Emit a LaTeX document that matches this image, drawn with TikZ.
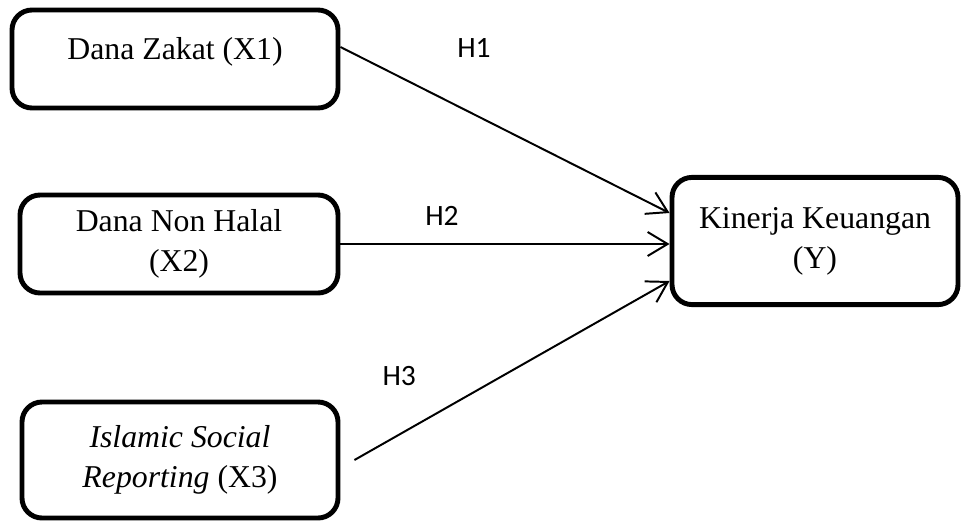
\documentclass[tikz,border=0pt]{standalone}
\usepackage{fontspec}
\setmainfont{Liberation Serif}
\newfontfamily\hfont{Carlito}
\usetikzlibrary{arrows.meta}
\tikzset{
  varbox/.style={
    draw=black,
    line width=3.5pt,
    rounded corners=0.5cm,
    align=center,
    inner sep=0pt,
    font=\fontsize{22.6}{28.5}\selectfont
  },
  hlabel/.style={font=\hfont\fontsize{21}{24}\selectfont},
  hpath/.style={-{Straight Barb[length=5mm,width=6mm,line width=1.4pt]},line width=1.4pt}
}

\begin{document}
\begin{tikzpicture}
  \useasboundingbox (0,0) rectangle (24.025,-13.05);

  \node[varbox,minimum width=8.15cm,minimum height=2.45cm,text height=0.55cm,text depth=0.5cm] (zakat) at (4.375,-1.475) {Dana Zakat (X1)};
  \node[varbox,minimum width=7.95cm,minimum height=2.45cm] (nonhalal) at (4.475,-6.1) {Dana Non Halal\\(X2)};
  \node[varbox,minimum width=7.9cm,minimum height=2.9cm] (isr) at (4.5,-11.5) {\textit{Islamic Social}\\\textit{Reporting} (X3)};
  \node[varbox,minimum width=7.15cm,minimum height=3.18cm] (kinerja) at (20.375,-6.025) {Kinerja Keuangan\\(Y)};

  \node[hlabel] (h1) at (11.85,-1.2) {H1};
  \node[hlabel] (h2) at (11.05,-5.4) {H2};
  \node[hlabel] (h3) at (9.98,-9.4) {H3};

  \draw[hpath] ([yshift=0.3cm]zakat.east) -- ([yshift=0.7cm]kinerja.west);
  \draw[hpath] (nonhalal.east) -- (nonhalal.east -| kinerja.west);
  \draw[hpath] ([xshift=0.35cm]isr.east) -- ([yshift=-1cm]kinerja.west);
\end{tikzpicture}
\end{document}
